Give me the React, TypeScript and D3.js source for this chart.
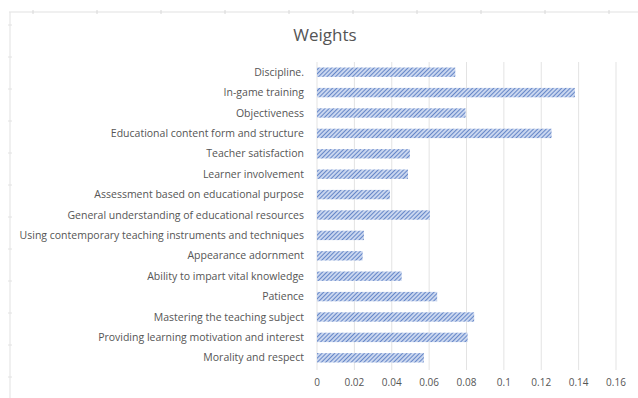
import React from "react";
import * as d3 from "d3";

const categories = [
  "Discipline.",
  "In-game training",
  "Objectiveness",
  "Educational content form and structure",
  "Teacher satisfaction",
  "Learner involvement",
  "Assessment based on educational purpose",
  "General understanding of educational resources",
  "Using contemporary teaching instruments and techniques",
  "Appearance adornment",
  "Ability to impart vital knowledge",
  "Patience",
  "Mastering the teaching subject",
  "Providing learning motivation and interest",
  "Morality and respect",
];
const weights = [
  0.074, 0.138, 0.0795, 0.1255, 0.0497, 0.0487, 0.039, 0.0604, 0.0251, 0.0244,
  0.0453, 0.0643, 0.0841, 0.0806, 0.0572,
];
const xTicks = [0, 0.02, 0.04, 0.06, 0.08, 0.1, 0.12, 0.14, 0.16];
const title = "Weights";

const W = 638;
const H = 398;
const FONT = "'Open Sans', 'Liberation Sans', sans-serif";

export default function App() {
  const x = d3.scaleLinear().domain([0, 0.16]).range([317, 616]);
  const y = d3
    .scaleBand<string>()
    .domain(categories)
    .range([62, 368])
    .paddingInner(0.54)
    .paddingOuter(0.27);
  const fmt = (v: number) => (v === 0 ? "0" : String(+v.toFixed(2)));
  const frameTicks = d3.range(33, W, 64);
  const leftTicks = d3.range(25, H, 32);
  return (
    <div style={{ position: "absolute", left: 0, top: 0 }}>
      <svg width={W} height={H} style={{ display: "block", background: "#fff" }}>
        <defs>
          <pattern id="hatch" width={3} height={3} patternUnits="userSpaceOnUse" patternTransform="rotate(45)">
            <rect width={3} height={3} fill="#c9d6ef" />
            <line x1={0} y1={0} x2={0} y2={3} stroke="#5b7ec4" strokeWidth={1.8} />
          </pattern>
        </defs>
        {/* spreadsheet frame remnants */}
        <line x1={9} x2={W} y1={12} y2={12} stroke="#e2e2e2" strokeWidth={1.2} />
        <line x1={10} x2={10} y1={12} y2={H} stroke="#e6e6e6" strokeWidth={1.2} />
        {frameTicks.map((t) => (
          <line key={t} x1={t} x2={t} y1={10} y2={14} stroke="#d8d8d8" />
        ))}
        {leftTicks.map((t) => (
          <line key={t} x1={8} x2={12} y1={t} y2={t} stroke="#e2e2e2" />
        ))}
        <text x={325} y={41} textAnchor="middle" fontFamily={FONT} fontSize={17} fill="#555">
          {title}
        </text>
        {xTicks.map((t) => (
          <line key={t} x1={x(t)} x2={x(t)} y1={62} y2={370} stroke="#e3e3e3" strokeWidth={1} />
        ))}
        {categories.map((c, i) => (
          <rect
            key={c}
            x={x(0)}
            y={y(c)}
            width={x(weights[i]) - x(0)}
            height={y.bandwidth()}
            fill="url(#hatch)"
          />
        ))}
        {categories.map((c) => (
          <text
            key={c}
            x={304}
            y={(y(c) as number) + y.bandwidth() / 2}
            dy="0.35em"
            textAnchor="end"
            fontFamily={FONT}
            fontSize={10.5}
            fill="#555"
          >
            {c}
          </text>
        ))}
        {xTicks.map((t) => (
          <text key={t} x={x(t)} y={386} textAnchor="middle" fontFamily={FONT} fontSize={10} fill="#555">
            {fmt(t)}
          </text>
        ))}
      </svg>
    </div>
  );
}
